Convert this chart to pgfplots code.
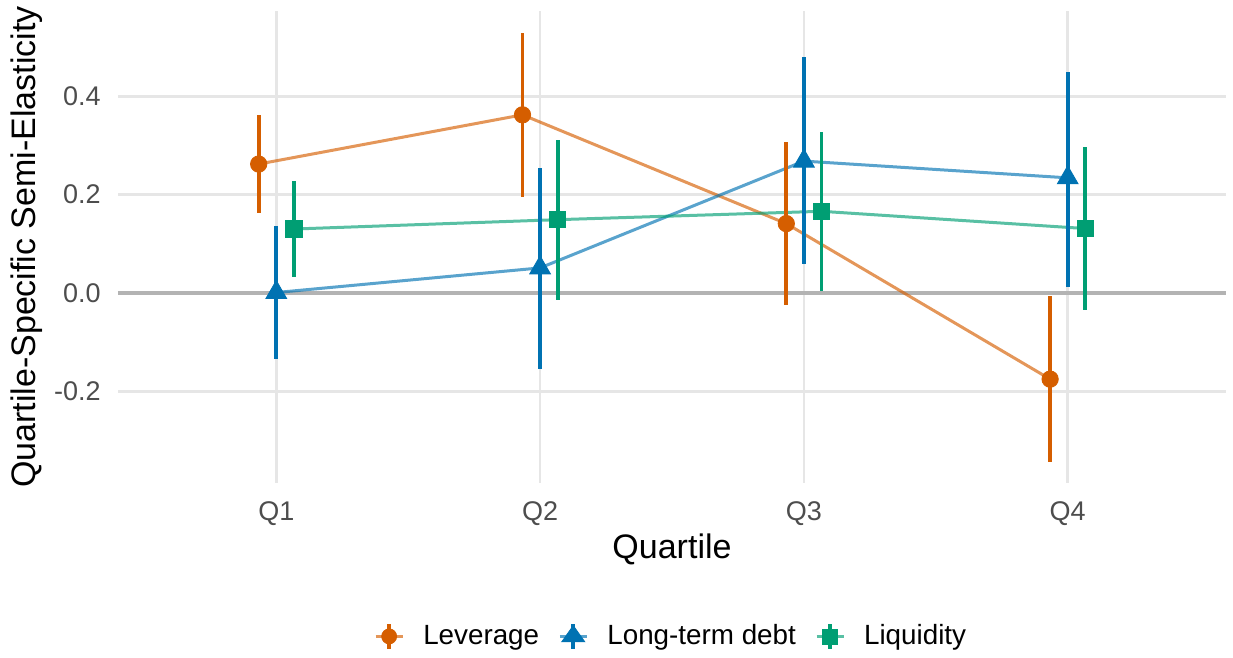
\documentclass[border=0pt]{standalone}
\usepackage{pgfplots}
\pgfplotsset{compat=1.18}
\usepackage{pgfplotstable}
\usepackage{fontspec}
\setmainfont{Liberation Sans}
\definecolor{lev}{HTML}{D55E00}
\definecolor{ltd}{HTML}{0072B2}
\definecolor{liq}{HTML}{009E73}
\definecolor{gridc}{HTML}{E6E6E6}
\definecolor{zeroc}{HTML}{B3B3B3}
\definecolor{tickc}{HTML}{4D4D4D}

\pgfplotstableread{
x y lo hi
0.9333 0.262 0.162 0.362
1.9333 0.362 0.196 0.529
2.9333 0.141 -0.024 0.306
3.9333 -0.175 -0.344 -0.007
}\levtab
\pgfplotstableread{
x y lo hi
1 0.001 -0.134 0.137
2 0.051 -0.154 0.254
3 0.268 0.058 0.480
4 0.234 0.012 0.450
}\ltdtab
\pgfplotstableread{
x y lo hi
1.0667 0.130 0.033 0.228
2.0667 0.149 -0.014 0.310
3.0667 0.166 0.005 0.328
4.0667 0.131 -0.035 0.296
}\liqtab

\begin{document}
\begin{tikzpicture}
\begin{axis}[
  name=ax, scale only axis, width=554pt, height=236pt,
  xmin=0.4, xmax=4.6, ymin=-0.386, ymax=0.573,
  axis line style={draw=none}, major tick length=0pt,
  xtick={1,2,3,4}, xticklabels={Q1,Q2,Q3,Q4},
  ytick={-0.2,0,0.2,0.4}, yticklabels={-0.2,0.0,0.2,0.4},
  grid=major, grid style={gridc, line width=1.4pt},
  tick label style={font=\fontsize{13.5}{16}\selectfont, text=tickc},
  xticklabel style={anchor=north, inner sep=0pt, yshift=-9pt},
  yticklabel style={anchor=east, inner sep=0pt, xshift=-8.5pt},
  xlabel={Quartile}, ylabel={Quartile-Specific Semi-Elasticity},
  label style={font=\fontsize{17}{20}\selectfont},
  xlabel style={at={(axis description cs:0.5,-0.106)}, anchor=north, inner sep=0pt},
  ylabel style={at={(axis description cs:-0.0677,0.5)}, anchor=south, inner sep=0pt},
  legend columns=3,
  legend style={at={(axis description cs:0.2311,-0.325)}, anchor=west, draw=none, fill=none,
    inner sep=0pt, outer sep=0pt, font=\fontsize{13.9}{16}\selectfont,
    nodes={inner sep=0pt},
    /tikz/every odd column/.append style={column sep=9.5pt},
    /tikz/every even column/.append style={column sep=9.5pt}},
  legend cell align=left,
]
\addplot[forget plot, zeroc, line width=1.6pt] coordinates {(0.4,0) (4.6,0)};

\addplot[forget plot, lev, opacity=0.65, line width=1.5pt] table[x=x,y=y]{\levtab};
\addplot[forget plot, ltd, opacity=0.65, line width=1.5pt] table[x=x,y=y]{\ltdtab};
\addplot[forget plot, liq, opacity=0.65, line width=1.5pt] table[x=x,y=y]{\liqtab};

\addplot[forget plot, lev, only marks, mark=*, mark size=4.1pt, mark options={draw=none, fill=lev},
  error bars/.cd, y dir=both, y explicit, error mark=none, error bar style={line width=1.9pt, lev}]
  table[x=x, y=y, y error plus expr=\thisrow{hi}-\thisrow{y}, y error minus expr=\thisrow{y}-\thisrow{lo}]{\levtab};
\addplot[forget plot, ltd, only marks, mark=triangle*, mark size=6pt, mark options={draw=none, fill=ltd},
  error bars/.cd, y dir=both, y explicit, error mark=none, error bar style={line width=1.9pt, ltd}]
  table[x=x, y=y, y error plus expr=\thisrow{hi}-\thisrow{y}, y error minus expr=\thisrow{y}-\thisrow{lo}]{\ltdtab};
\addplot[forget plot, liq, only marks, mark=square*, mark size=4.1pt, mark options={draw=none, fill=liq},
  error bars/.cd, y dir=both, y explicit, error mark=none, error bar style={line width=1.9pt, liq}]
  table[x=x, y=y, y error plus expr=\thisrow{hi}-\thisrow{y}, y error minus expr=\thisrow{y}-\thisrow{lo}]{\liqtab};

\addlegendimage{legend image code/.code={
  \draw[lev, opacity=0.65, line width=1.6pt] (0pt,0pt) -- (13.5pt,0pt);
  \draw[lev, line width=1.9pt] (6.75pt,-6.25pt) -- (6.75pt,6.25pt);
  \fill[lev] (6.75pt,0pt) circle (3.75pt);
}}
\addlegendentry{Leverage}
\addlegendimage{legend image code/.code={
  \draw[ltd, opacity=0.65, line width=1.6pt] (0pt,0pt) -- (13.5pt,0pt);
  \draw[ltd, line width=1.9pt] (6.75pt,-6.25pt) -- (6.75pt,6.25pt);
  \fill[ltd] (6.75pt,5.4pt) -- (1pt,-2.7pt) -- (12.5pt,-2.7pt) -- cycle;
}}
\addlegendentry{Long-term debt}
\addlegendimage{legend image code/.code={
  \draw[liq, opacity=0.65, line width=1.6pt] (0pt,0pt) -- (13.5pt,0pt);
  \draw[liq, line width=1.9pt] (6.75pt,-6.25pt) -- (6.75pt,6.25pt);
  \fill[liq] (3pt,-3.75pt) rectangle (10.5pt,3.75pt);
}}
\addlegendentry{Liquidity}
\end{axis}
\pgfresetboundingbox
\path[use as bounding box] ([xshift=-59pt,yshift=-87.5pt]ax.south west) rectangle ([xshift=3.5pt,yshift=5.5pt]ax.north east);
\end{tikzpicture}
\end{document}
